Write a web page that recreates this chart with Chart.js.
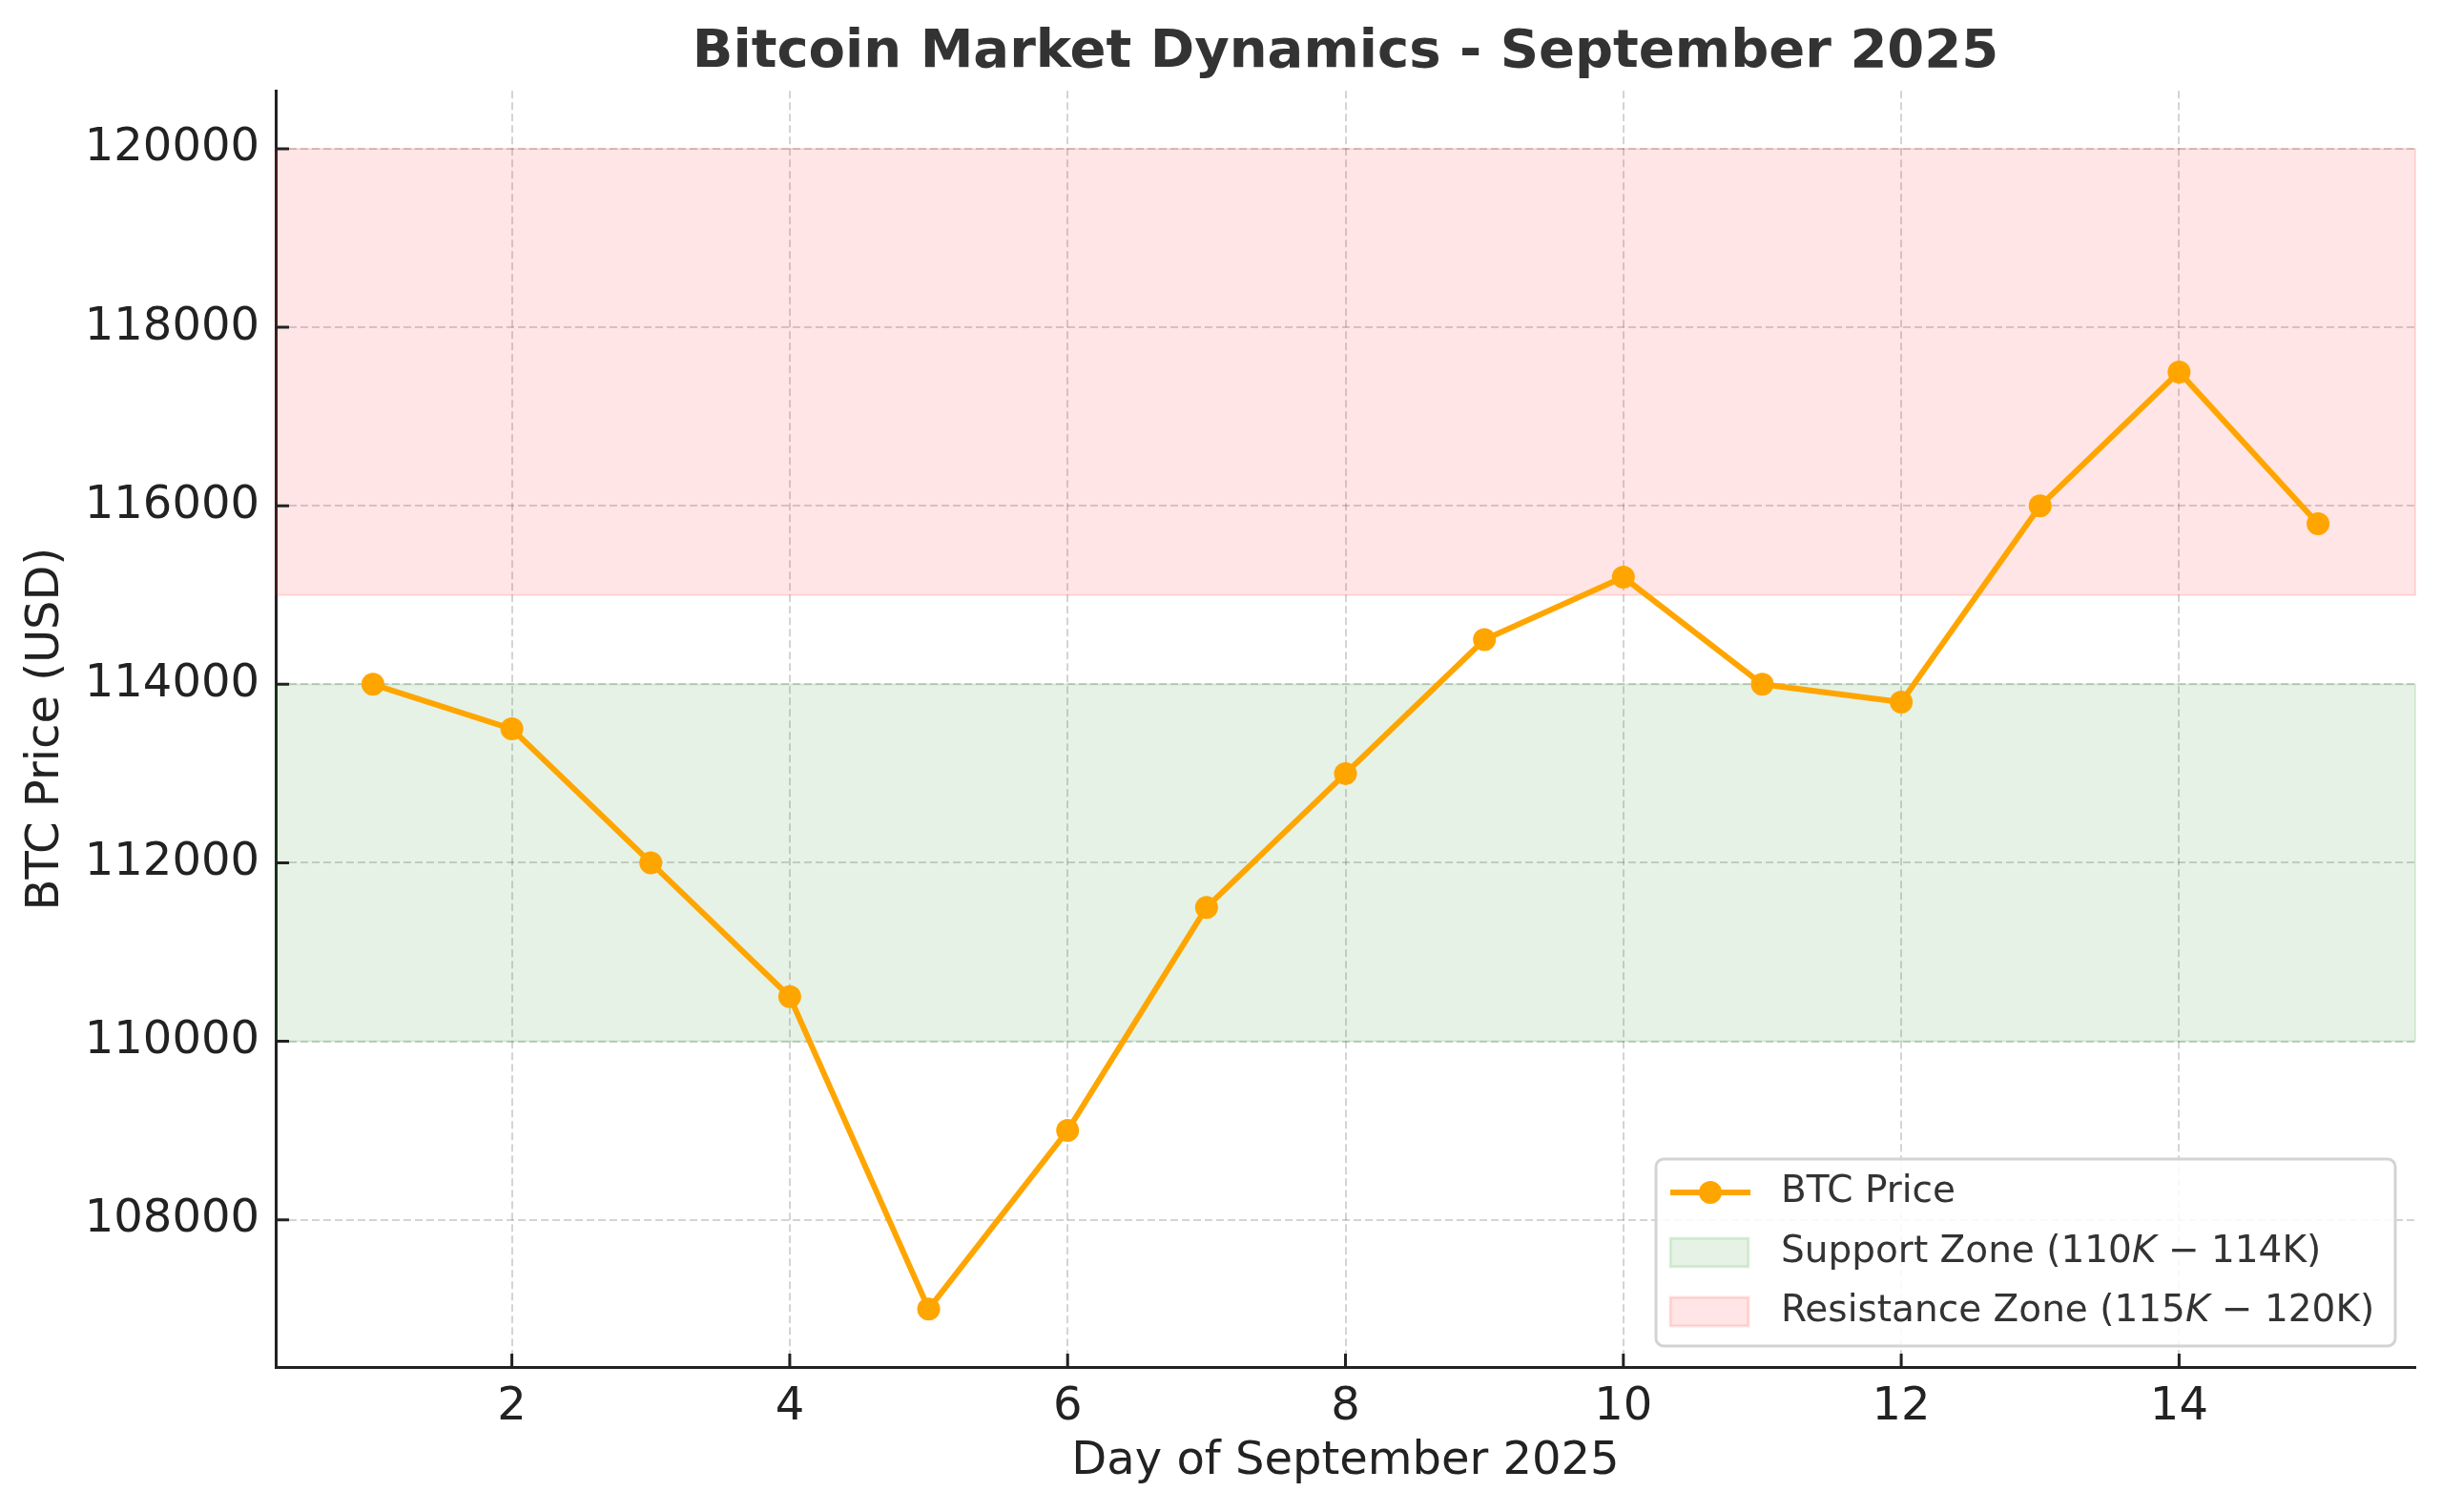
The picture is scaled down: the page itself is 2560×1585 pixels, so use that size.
<!DOCTYPE html>
<html>
<head>
<meta charset="utf-8">
<title>Bitcoin Market Dynamics - September 2025</title>
<script src="https://cdn.jsdelivr.net/npm/chart.js@4.4.0/dist/chart.umd.min.js"></script>
<style>
  html, body { margin: 0; padding: 0; background: #fff; }
  canvas { display: block; }
</style>
</head>
<body>
<canvas id="btcChart" width="2560" height="1585"></canvas>
<script>
// valores
const days = [1, 2, 3, 4, 5, 6, 7, 8, 9, 10, 11, 12, 13, 14, 15];
const prices = [114000, 113500, 112000, 110500, 107000, 109000, 111500, 113000, 114500, 115200, 114000, 113800, 116000, 117500, 115800];
const seriesName = 'BTC Price';

const xTicks = [2, 4, 6, 8, 10, 12, 14];
const yTicks = [108000, 110000, 112000, 114000, 116000, 118000, 120000];

// zonas de soporte / resistencia
const zoneNames = ['Support Zone (110K − 114K)', 'Resistance Zone (115K − 120K)'];
const zoneLow = [110000, 115000];
const zoneHigh = [114000, 120000];
const zoneFill = ['rgba(0,128,0,0.1)', 'rgba(255,0,0,0.1)'];
const zoneEdge = ['rgba(0,128,0,0.12)', 'rgba(255,0,0,0.12)'];

const lineColor = '#ffa500';
const FONT = "'DejaVu Sans', sans-serif";

const points = days.map((d, i) => ({ x: d, y: prices[i] }));

// dibuja las franjas horizontales con la escala y
const zonesPlugin = {
    id: 'zones',
    beforeDatasetsDraw(chart) {
        const { ctx, chartArea } = chart;
        const y = chart.scales.y;
        ctx.save();
        for (let i = 0; i < zoneLow.length; i++) {
            const top = y.getPixelForValue(zoneHigh[i]);
            const bot = y.getPixelForValue(zoneLow[i]);
            ctx.fillStyle = zoneFill[i];
            ctx.fillRect(chartArea.left, top, chartArea.right - chartArea.left, bot - top);
            ctx.strokeStyle = zoneEdge[i];
            ctx.lineWidth = 2;
            ctx.strokeRect(chartArea.left, top, chartArea.right - chartArea.left, bot - top);
        }
        ctx.restore();
    }
};

// marcas hacia dentro + leyenda abajo a la derecha
const extrasPlugin = {
    id: 'extras',
    afterDraw(chart) {
        const { ctx, chartArea } = chart;
        const xs = chart.scales.x;
        const ys = chart.scales.y;
        ctx.save();
        ctx.strokeStyle = '#222';
        ctx.lineWidth = 3;
        ctx.beginPath();
        xTicks.forEach(v => {
            const px = xs.getPixelForValue(v);
            ctx.moveTo(px, chartArea.bottom);
            ctx.lineTo(px, chartArea.bottom - 14);
        });
        yTicks.forEach(v => {
            const py = ys.getPixelForValue(v);
            ctx.moveTo(chartArea.left, py);
            ctx.lineTo(chartArea.left + 14, py);
        });
        ctx.stroke();

        // leyenda
        const boxW = 775, boxH = 196;
        const bx = chartArea.right - 21 - boxW;
        const by = chartArea.bottom - 22 - boxH;
        ctx.beginPath();
        ctx.roundRect(bx, by, boxW, boxH, 8);
        ctx.fillStyle = 'rgba(255,255,255,0.85)';
        ctx.fill();
        ctx.strokeStyle = '#d3d3d3';
        ctx.lineWidth = 3;
        ctx.stroke();

        const rowY = [by + 35, by + 98, by + 160];
        const sx = bx + 15, sw = 84;
        const tx = bx + 131;

        ctx.strokeStyle = lineColor;
        ctx.lineWidth = 6;
        ctx.beginPath();
        ctx.moveTo(sx, rowY[0]);
        ctx.lineTo(sx + sw, rowY[0]);
        ctx.stroke();
        ctx.fillStyle = lineColor;
        ctx.beginPath();
        ctx.arc(sx + sw / 2, rowY[0], 12, 0, Math.PI * 2);
        ctx.fill();

        ctx.font = '39px ' + FONT;
        ctx.textBaseline = 'middle';
        ctx.fillStyle = '#333';
        ctx.fillText(seriesName, tx, rowY[0]);

        for (let i = 0; i < zoneNames.length; i++) {
            const ry = rowY[i + 1];
            ctx.fillStyle = zoneFill[i];
            ctx.fillRect(sx, ry - 15, sw - 2, 30);
            ctx.strokeStyle = zoneEdge[i];
            ctx.lineWidth = 3;
            ctx.strokeRect(sx, ry - 15, sw - 2, 30);

            // la primera K sale en cursiva (mathtext)
            const label = zoneNames[i];
            const k = label.indexOf('K −');
            const parts = [[label.slice(0, k), 'normal'], ['K', 'italic'], [label.slice(k + 1), 'normal']];
            let cx = tx;
            ctx.fillStyle = '#333';
            parts.forEach(([txt, style]) => {
                ctx.font = (style === 'italic' ? 'italic ' : '') + '39px ' + FONT;
                ctx.fillText(txt, cx, ry);
                cx += ctx.measureText(txt).width;
            });
        }
        ctx.restore();
    }
};

new Chart(document.getElementById('btcChart').getContext('2d'), {
    type: 'line',
    data: {
        datasets: [{
            label: seriesName,
            data: points,
            borderColor: lineColor,
            backgroundColor: lineColor,
            borderWidth: 6,
            pointRadius: 12,
            pointHoverRadius: 12,
            pointBackgroundColor: lineColor,
            pointBorderWidth: 0,
            tension: 0,
        }]
    },
    options: {
        responsive: false,
        animation: false,
        devicePixelRatio: 1,
        layout: { padding: { left: 0, right: 28, top: 0, bottom: 0 } },
        plugins: {
            legend: { display: false },
            tooltip: { enabled: false },
            title: {
                display: true,
                text: 'Bitcoin Market Dynamics - September 2025',
                fullSize: false,
                color: '#333',
                font: { family: FONT, size: 56, weight: 'bold', lineHeight: 1.2 },
                padding: { top: 22, bottom: 6 },
            },
        },
        scales: {
            x: {
                type: 'linear',
                min: 0.3,
                max: 15.7,
                afterBuildTicks: s => { s.ticks = xTicks.map(v => ({ value: v })); },
                afterFit: s => { s.height = 152; },
                grid: { color: 'rgba(0,0,0,0.17)', lineWidth: 2, drawTicks: false },
                border: { display: true, color: '#222', width: 3, dash: [8, 4] },
                ticks: { color: '#222', padding: 14, font: { family: FONT, size: 48 }, maxRotation: 0 },
                title: {
                    display: true,
                    text: 'Day of September 2025',
                    color: '#222',
                    font: { family: FONT, size: 48, lineHeight: 1.2 },
                    padding: { top: 0, bottom: 24 },
                },
            },
            y: {
                type: 'linear',
                min: 106350,
                max: 120650,
                afterBuildTicks: s => { s.ticks = yTicks.map(v => ({ value: v })); },
                afterFit: s => { s.width = 289; },
                grid: { color: 'rgba(0,0,0,0.17)', lineWidth: 2, drawTicks: false },
                border: { display: true, color: '#222', width: 3, dash: [8, 4] },
                ticks: { color: '#222', padding: 17, font: { family: FONT, size: 48 }, callback: v => String(v) },
                title: {
                    display: true,
                    text: 'BTC Price (USD)',
                    color: '#222',
                    font: { family: FONT, size: 48, lineHeight: 1.2 },
                    padding: { top: 20, bottom: 0 },
                },
            },
        },
    },
    plugins: [zonesPlugin, extrasPlugin],
});
</script>
</body>
</html>
